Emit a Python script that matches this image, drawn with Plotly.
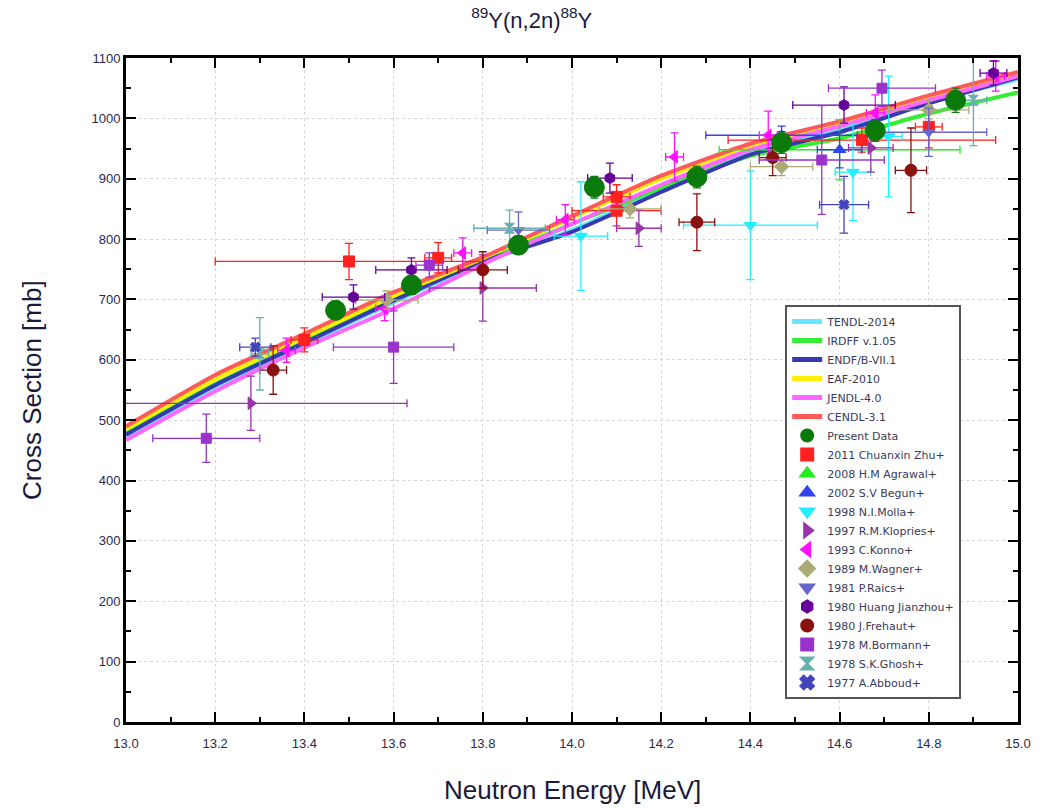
import plotly.graph_objects as go

# ---------------- evaluated curves ----------------
E_eval = [13.0, 13.2, 13.4, 13.6, 13.8, 14.0, 14.2, 14.4, 14.6, 14.8, 15.0]
tendl = [474, 555, 625, 695, 762, 815, 882, 943, 982, 1027, 1065]
irdff = [478, 560, 630, 700, 764, 825, 885, 938, 967, 1008, 1043]
endf = [476, 558, 628, 698, 763, 812, 878, 940, 977, 1025, 1068]
eaf = [485, 568, 637, 706, 768, 835, 900, 955, 992, 1035, 1074]
jendl = [467, 548, 620, 685, 758, 825, 890, 948, 987, 1030, 1070]
cendl = [490, 575, 643, 712, 770, 838, 905, 958, 995, 1038, 1077]

# ---------------- experimental data ----------------
present_E = [13.47, 13.64, 13.88, 14.05, 14.28, 14.47, 14.68, 14.86]
present_S = [682, 724, 790, 886, 903, 960, 980, 1030]
present_dS = [15, 15, 15, 18, 18, 18, 18, 20]

zhu_E = [13.40, 13.50, 13.70, 14.10, 14.10, 14.65, 14.80]
zhu_S = [633, 763, 769, 870, 847, 964, 986]
zhu_dE = [0.03, 0.30, 0.03, 0.03, 0.10, 0.30, 0.03]
zhu_dS = [20, 30, 25, 20, 25, 20, 35]

agr_E = [14.60]
agr_S = [948]
agr_dE = [0.27]
agr_dS = [50]

begun_E = [14.47, 14.60]
begun_S = [972, 948]
begun_dE = [0.17, 0.05]
begun_dS = [15, 30]

molla_E = [14.02, 14.40, 14.63, 14.71]
molla_S = [805, 823, 911, 970]
molla_dE = [0.06, 0.15, 0.04, 0.03]
molla_dS = [90, 90, 80, 100]

klop_E = [13.28, 13.80, 14.15, 14.67]
klop_S = [528, 719, 818, 951]
klop_dE = [0.35, 0.12, 0.05, 0.05]
klop_dS = [45, 55, 30, 40]

konno_E = [13.36, 13.58, 13.755, 13.985, 14.23, 14.44, 14.68, 14.95]
konno_S = [616, 685, 777, 832, 936, 972, 1009, 1070]
konno_dE = [0.02, 0.02, 0.02, 0.02, 0.02, 0.02, 0.02, 0.02]
konno_dS = [20, 20, 25, 25, 40, 40, 30, 25]

wagner_E = [13.585, 14.13, 14.47, 14.80]
wagner_S = [699, 850, 920, 1014]
wagner_dE = [0.07, 0.07, 0.07, 0.09]
wagner_dS = [15, 15, 15, 15]

raics_E = [13.88, 14.80]
raics_S = [815, 977]
raics_dE = [0.07, 0.13]
raics_dS = [30, 40]

huang_E = [13.51, 13.64, 14.085, 14.61, 14.945]
huang_S = [704, 749, 901, 1022, 1075]
huang_dE = [0.07, 0.08, 0.05, 0.115, 0.03]
huang_dS = [20, 20, 25, 30, 20]

freh_E = [13.33, 13.80, 14.28, 14.45, 14.76]
freh_S = [583, 749, 828, 935, 914]
freh_dE = [0.03, 0.055, 0.04, 0.03, 0.035]
freh_dS = [40, 30, 47, 30, 70]

borm_E = [13.18, 13.60, 13.68, 14.56, 14.695]
borm_S = [470, 621, 757, 931, 1050]
borm_dE = [0.12, 0.135, 0.03, 0.14, 0.12]
borm_dS = [40, 60, 20, 90, 30]

ghosh_E = [13.30, 13.86, 14.90]
ghosh_S = [610, 818, 1030]
ghosh_dE = [0.02, 0.08, 0.03]
ghosh_dS = [60, 30, 75]

abb_E = [13.29, 14.61]
abb_S = [621, 857]
abb_dE = [0.035, 0.055]
abb_dS = [15, 47]

x_ticks = [13.0, 13.2, 13.4, 13.6, 13.8, 14.0, 14.2, 14.4, 14.6, 14.8, 15.0]
y_ticks = [0, 100, 200, 300, 400, 500, 600, 700, 800, 900, 1000, 1100]

fig = go.Figure()

curves = [
    ("TENDL-2014", tendl, "#66e6ff"),
    ("IRDFF v.1.05", irdff, "#33ee33"),
    ("ENDF/B-VII.1", endf, "#3838b0"),
    ("EAF-2010", eaf, "#ffee00"),
    ("JENDL-4.0", jendl, "#ff66ff"),
    ("CENDL-3.1", cendl, "#ff5a5a"),
]
rank = 1
for name, ys, col in curves:
    fig.add_trace(go.Scatter(x=E_eval, y=ys, mode="lines", name=name,
                             line=dict(color=col, width=4, shape="spline", smoothing=0.6),
                             legendrank=rank))
    rank += 1

def exp_trace(name, xs, ys, dx, dy, col, sym, size, lrank):
    ex = dict(type="data", array=dx, color=col, thickness=1.3, width=4) if dx is not None else None
    fig.add_trace(go.Scatter(
        x=xs, y=ys, mode="markers", name=name, legendrank=lrank,
        marker=dict(color=col, symbol=sym, size=size, line=dict(color=col, width=1)),
        error_x=ex,
        error_y=dict(type="data", array=dy, color=col, thickness=1.3, width=4),
    ))

exp_trace("2011 Chuanxin Zhu+", zhu_E, zhu_S, zhu_dE, zhu_dS, "#ff2020", "square", 11, 8)
exp_trace("2008 H.M Agrawal+", agr_E, agr_S, agr_dE, agr_dS, "#22ee22", "triangle-up", 10, 9)
exp_trace("2002 S.V Begun+", begun_E, begun_S, begun_dE, begun_dS, "#3344ee", "triangle-up", 11, 10)
exp_trace("1998 N.I.Molla+", molla_E, molla_S, molla_dE, molla_dS, "#22eeff", "triangle-down", 11, 11)
exp_trace("1997 R.M.Klopries+", klop_E, klop_S, klop_dE, klop_dS, "#9933aa", "triangle-right", 11, 12)
exp_trace("1993 C.Konno+", konno_E, konno_S, konno_dE, konno_dS, "#ff11ff", "triangle-left", 11, 13)
exp_trace("1989 M.Wagner+", wagner_E, wagner_S, wagner_dE, wagner_dS, "#aaaa77", "diamond", 11, 14)
exp_trace("1981 P.Raics+", raics_E, raics_S, raics_dE, raics_dS, "#6666cc", "triangle-down", 10, 15)
exp_trace("1980 Huang Jianzhou+", huang_E, huang_S, huang_dE, huang_dS, "#660099", "hexagon", 11, 16)
exp_trace("1980 J.Frehaut+", freh_E, freh_S, freh_dE, freh_dS, "#8b1010", "circle", 12, 17)
exp_trace("1978 M.Bormann+", borm_E, borm_S, borm_dE, borm_dS, "#9933cc", "square", 10, 18)
exp_trace("1978 S.K.Ghosh+", ghosh_E, ghosh_S, ghosh_dE, ghosh_dS, "#66b0b0", "hourglass", 10, 19)
exp_trace("1977 A.Abboud+", abb_E, abb_S, abb_dE, abb_dS, "#4444bb", "x", 9, 20)
exp_trace("Present Data", present_E, present_S, None, present_dS, "#0a7a0a", "circle", 20, 7)

tick_font = dict(family="Liberation Sans, Arial, sans-serif", size=13, color="#2a2a4a")
title_font = dict(family="Liberation Sans, Arial, sans-serif", size=26, color="#1a1a3a")

fig.update_layout(
    width=1053, height=808,
    margin=dict(l=126, r=35, t=58, b=86),
    paper_bgcolor="white", plot_bgcolor="white",
    title=dict(text="<sup>89</sup>Y(n,2n)<sup>88</sup>Y", x=0.505, xanchor="center",
               y=0.985, yanchor="top",
               font=dict(family="Liberation Sans, Arial, sans-serif", size=22, color="#1a1a3a")),
    showlegend=True,
    legend=dict(x=0.739, y=0.628, xanchor="left", yanchor="top",
                bgcolor="white", bordercolor="#555555", borderwidth=2,
                font=dict(family="DejaVu Sans, sans-serif", size=11, color="#3a3a5a"),
                tracegroupgap=0, itemwidth=30, itemsizing="constant"),
    xaxis=dict(range=[13.0, 15.0], tickvals=x_ticks, ticktext=[f"{v:.1f}" for v in x_ticks],
               ticks="inside", ticklen=10, tickwidth=2, tickcolor="black",
               minor=dict(dtick=0.1, ticks="inside", ticklen=5, tickwidth=2, tickcolor="black", showgrid=False),
               showline=True, linecolor="black", linewidth=3, mirror="ticks",
               showgrid=True, gridcolor="#d6d6d6", griddash="dot", gridwidth=1,
               zeroline=False, tickfont=tick_font, ticklabelstandoff=7, automargin=False),
    yaxis=dict(range=[0, 1100], tickvals=y_ticks,
               ticks="inside", ticklen=10, tickwidth=2, tickcolor="black",
               minor=dict(dtick=50, ticks="inside", ticklen=5, tickwidth=2, tickcolor="black", showgrid=False),
               showline=True, linecolor="black", linewidth=3, mirror="ticks",
               showgrid=True, gridcolor="#d6d6d6", griddash="dot", gridwidth=1,
               zeroline=False, tickfont=tick_font, automargin=False),
    annotations=[
        dict(text="Neutron Energy [MeV]", xref="paper", yref="paper", x=0.5, y=-0.1024,
             xanchor="center", yanchor="middle", showarrow=False, font=title_font),
        dict(text="Cross Section [mb]", xref="paper", yref="paper", x=-0.1054, y=0.5,
             xanchor="center", yanchor="middle", textangle=-90, showarrow=False, font=title_font),
    ],
)

fig.write_html("out.html")
